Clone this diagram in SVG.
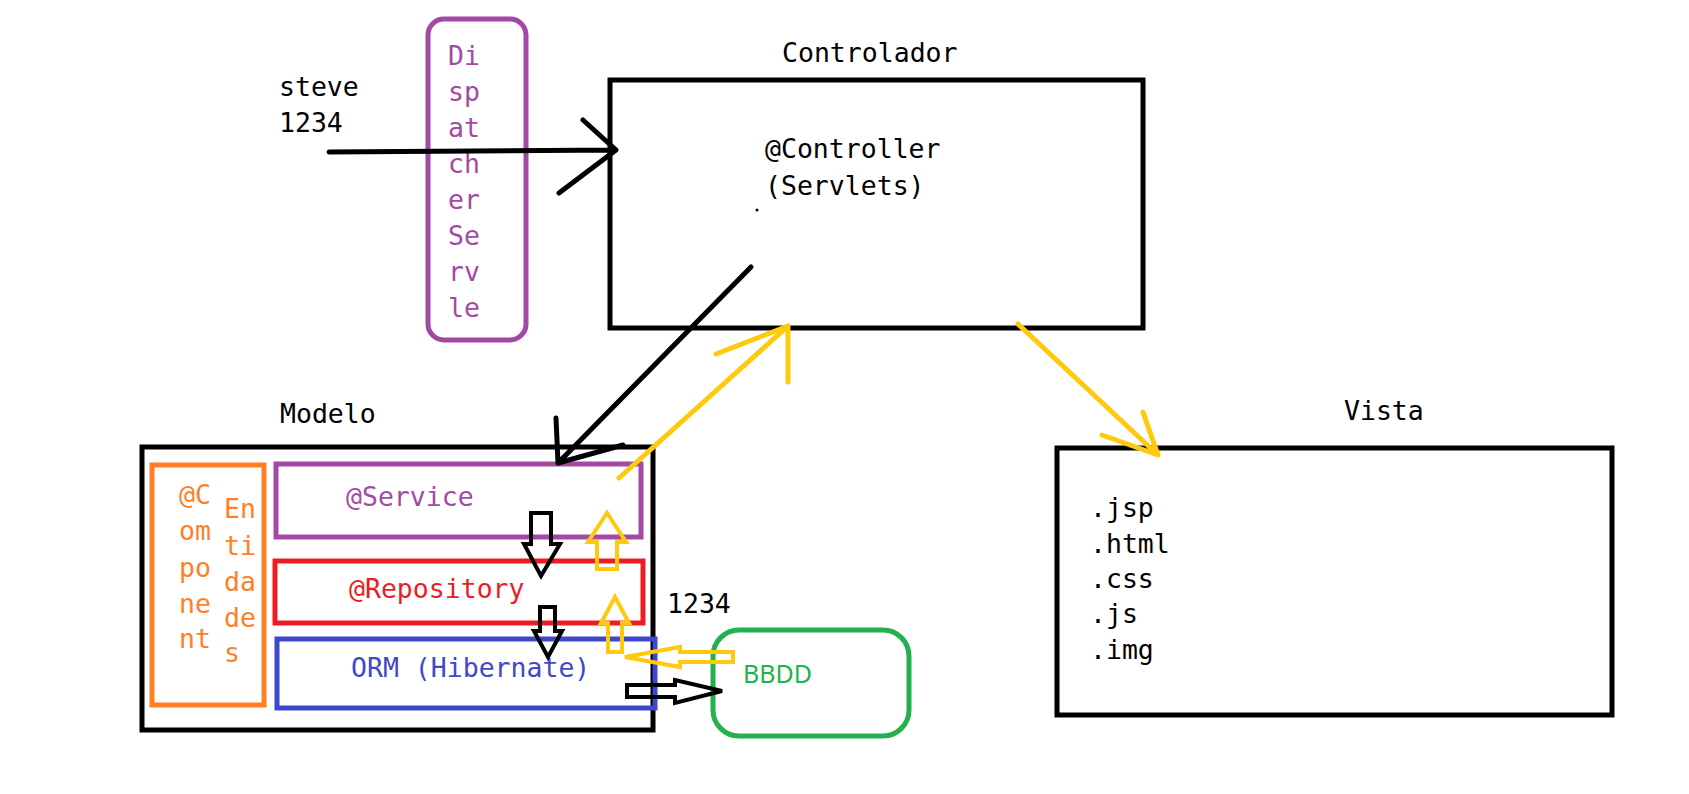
<svg xmlns="http://www.w3.org/2000/svg" width="1689" height="794" viewBox="0 0 1689 794">
<style>
.t{font-family:"DejaVu Sans Mono","Liberation Mono",monospace;font-size:26.5px}
.box{fill:none;stroke-width:5}
.blk{stroke:#000;fill:none;stroke-width:5;stroke-linecap:round;stroke-linejoin:round}
.yel{stroke:#ffc90e;fill:none;stroke-width:5;stroke-linecap:round;stroke-linejoin:round}
.hb{stroke:#000;fill:none;stroke-width:4}
.hy{stroke:#ffc90e;fill:none;stroke-width:4}
</style>
<rect width="1689" height="794" fill="#fff"/>
<g id="input">
<text class="t" x="279" y="96">steve</text>
<text class="t" x="279" y="132">1234</text>
</g>
<g id="dispatcher">
<rect class="box" x="428" y="19" width="98" height="321" rx="16" stroke="#a349a4"/>
<g class="t" fill="#a349a4">
<text x="448" y="65">Di</text><text x="448" y="101">sp</text><text x="448" y="137">at</text><text x="448" y="173">ch</text>
<text x="448" y="209">er</text><text x="448" y="245">Se</text><text x="448" y="281">rv</text><text x="448" y="317">le</text>
</g>
</g>
<g id="controlador">
<text class="t" x="782" y="62">Controlador</text>
<rect class="box" x="610" y="80" width="533" height="248" stroke="#000"/>
<text class="t" x="765" y="158">@Controller</text>
<text class="t" x="765" y="195">(Servlets)</text>
<circle cx="757" cy="210" r="1.5" fill="#000"/>
</g>
<g id="modelo">
<text class="t" x="280" y="423">Modelo</text>
<rect class="box" x="142" y="447" width="511" height="283" stroke="#000"/>
</g>
<g id="entidades">
<rect class="box" x="152" y="465" width="112" height="240" stroke="#ff7f27"/>
<g class="t" fill="#ff7f27">
<text x="179" y="504">@C</text><text x="179" y="540">om</text><text x="179" y="577">po</text><text x="179" y="613">ne</text><text x="179" y="648">nt</text>
<text x="224" y="518">En</text><text x="224" y="555">ti</text><text x="224" y="591">da</text><text x="224" y="627">de</text><text x="224" y="662">s</text>
</g>
</g>
<g id="service">
<rect class="box" x="276" y="464" width="365" height="73" stroke="#a349a4"/>
<text class="t" x="346" y="506" fill="#a349a4">@Service</text>
</g>
<g id="repository">
<rect class="box" x="275" y="561" width="368" height="62" stroke="#ed1c24"/>
<text class="t" x="349" y="598" fill="#ed1c24">@Repository</text>
</g>
<g id="orm">
<rect class="box" x="277" y="639" width="378" height="69" stroke="#3f48cc"/>
<text class="t" x="351" y="677" fill="#3f48cc">ORM (Hibernate)</text>
</g>
<g id="bbdd">
<text class="t" x="667" y="613">1234</text>
<rect class="box" x="713" y="630" width="196" height="106" rx="26" stroke="#22b14c"/>
<text x="743" y="683" fill="#22b14c" font-family="'Noto Sans','Open Sans',sans-serif" font-size="25">BBDD</text>
</g>
<g id="vista">
<text class="t" x="1344" y="420">Vista</text>
<rect class="box" x="1057" y="448" width="555" height="267" stroke="#000"/>
<g class="t">
<text x="1090" y="517">.jsp</text><text x="1090" y="553">.html</text><text x="1090" y="588">.css</text><text x="1090" y="623">.js</text><text x="1090" y="659">.img</text>
</g>
</g>
<g id="connectors">
<path class="blk" d="M329 152 L616 150 M583 120 L616 150 L559 193"/>
<path class="blk" d="M751 267 L558 463 M556 418 L558 463 L623 445"/>
<path class="yel" d="M619 478 L788 326 M716 354 L788 326 L788 382"/>
<path class="yel" d="M1018 324 L1158 455 M1102 435 L1158 455 L1143 412"/>
<polygon class="hb" points="531,513 551,513 551,544 560,544 541,576 524,544 531,544"/>
<polygon class="hb" points="540,607 555,607 555,631 562,631 548,657 534,631 540,631"/>
<polygon class="hy" points="597,569 597,542 588,542 607,513 626,542 617,542 617,569"/>
<polygon class="hy" points="608,652 608,623 601,623 615,597 629,623 622,623 622,652"/>
<polygon class="hy" points="733,652 680,652 680,647 625,657 680,667 680,662 733,662"/>
<polygon class="hb" points="627,685 675,685 675,680 722,691 675,703 675,697 627,697"/>
</g>
</svg>
